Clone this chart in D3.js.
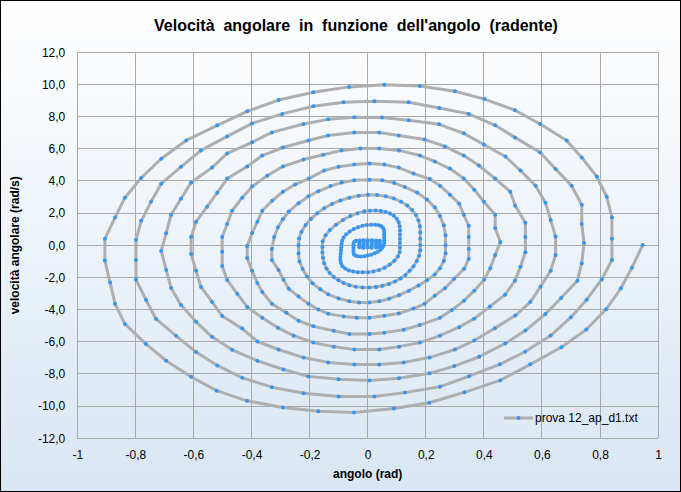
<!DOCTYPE html>
<html><head><meta charset="utf-8">
<script src="https://cdn.jsdelivr.net/npm/d3@7"></script>
<style>
html,body{margin:0;padding:0;background:#fff;}
svg{display:block;font-family:"Liberation Sans",Arial,sans-serif;}
</style></head>
<body><svg id="c" width="681" height="492"></svg>
<script>
// ---- data: angle (rad), angular velocity (rad/s), one array per half-oscillation
const semi01=[[0.947,0.02],[0.910,-1.39],[0.872,-2.67],[0.821,-3.98],[0.753,-5.24],[0.667,-6.34],[0.560,-7.40],[0.456,-8.40],[0.333,-9.14],[0.212,-9.79],[0.090,-10.15],[-0.047,-10.39],[-0.170,-10.32],[-0.292,-10.08],[-0.416,-9.67],[-0.520,-9.04],[-0.608,-8.18],[-0.694,-7.18],[-0.764,-6.13],[-0.836,-4.89],[-0.870,-3.64],[-0.887,-2.32],[-0.905,-0.95]];
const semi02=[[-0.905,0.40],[-0.870,1.73],[-0.836,2.96],[-0.780,4.19],[-0.711,5.38],[-0.625,6.52],[-0.518,7.46],[-0.415,8.33],[-0.307,9.03],[-0.187,9.52],[-0.064,9.85],[0.057,9.98],[0.179,9.90],[0.300,9.58],[0.402,9.09],[0.507,8.40],[0.594,7.54],[0.685,6.52],[0.737,5.46],[0.789,4.27],[0.823,3.02],[0.841,1.73],[0.841,0.40]];
const semi03=[[0.841,-0.91],[0.806,-2.12],[0.754,-3.38],[0.700,-4.47],[0.630,-5.61],[0.542,-6.62],[0.455,-7.40],[0.349,-8.14],[0.249,-8.79],[0.128,-9.16],[0.023,-9.40],[-0.100,-9.40],[-0.221,-9.20],[-0.330,-8.82],[-0.432,-8.24],[-0.518,-7.47],[-0.591,-6.63],[-0.660,-5.63],[-0.729,-4.58],[-0.763,-3.40],[-0.798,-2.13],[-0.798,-0.91]];
const semi04=[[-0.798,0.33],[-0.780,1.52],[-0.746,2.71],[-0.711,3.83],[-0.643,4.88],[-0.574,5.90],[-0.484,6.77],[-0.398,7.58],[-0.294,8.17],[-0.187,8.65],[-0.083,8.90],[0.023,8.96],[0.141,8.90],[0.246,8.54],[0.348,8.17],[0.439,7.46],[0.507,6.71],[0.594,5.77],[0.647,4.75],[0.702,3.71],[0.737,2.52],[0.737,1.33],[0.745,0.15]];
const semi05=[[0.737,-1.11],[0.722,-2.21],[0.666,-3.28],[0.612,-4.27],[0.543,-5.30],[0.474,-6.10],[0.384,-6.93],[0.298,-7.51],[0.213,-7.96],[0.108,-8.27],[0.006,-8.40],[-0.100,-8.33],[-0.204,-8.15],[-0.290,-7.72],[-0.380,-7.18],[-0.467,-6.50],[-0.536,-5.69],[-0.591,-4.76],[-0.643,-3.71],[-0.677,-2.65],[-0.694,-1.53],[-0.711,-0.35]];
const semi06=[[-0.694,0.75],[-0.677,1.90],[-0.643,2.90],[-0.608,3.90],[-0.536,4.83],[-0.484,5.71],[-0.398,6.40],[-0.330,7.02],[-0.221,7.54],[-0.136,7.83],[-0.046,7.96],[0.049,7.94],[0.141,7.77],[0.246,7.52],[0.331,6.96],[0.400,6.27],[0.474,5.52],[0.526,4.65],[0.578,3.71],[0.612,2.65],[0.630,1.58],[0.647,0.54]];
const semi07=[[0.647,-0.60],[0.630,-1.59],[0.595,-2.58],[0.560,-3.53],[0.508,-4.37],[0.438,-5.15],[0.367,-5.92],[0.300,-6.48],[0.213,-6.98],[0.124,-7.28],[0.040,-7.41],[-0.046,-7.41],[-0.136,-7.28],[-0.221,-6.98],[-0.307,-6.48],[-0.380,-5.98],[-0.432,-5.18],[-0.501,-4.39],[-0.536,-3.52],[-0.574,-2.59],[-0.591,-1.59],[-0.608,-0.54]];
const semi08=[[-0.608,0.52],[-0.591,1.46],[-0.553,2.40],[-0.518,3.27],[-0.484,4.15],[-0.415,4.90],[-0.363,5.58],[-0.292,6.08],[-0.204,6.52],[-0.136,6.83],[-0.046,7.02],[0.040,7.02],[0.107,6.83],[0.196,6.58],[0.266,6.15],[0.331,5.58],[0.383,4.96],[0.439,4.15],[0.491,3.33],[0.508,2.46],[0.543,1.40],[0.543,0.52]];
const semi09=[[0.543,-0.43],[0.526,-1.34],[0.507,-2.21],[0.473,-3.07],[0.421,-3.81],[0.367,-4.56],[0.315,-5.09],[0.249,-5.62],[0.180,-6.05],[0.108,-6.30],[0.040,-6.48],[-0.046,-6.48],[-0.117,-6.30],[-0.187,-6.05],[-0.255,-5.62],[-0.309,-5.13],[-0.363,-4.51],[-0.415,-3.83],[-0.449,-3.02],[-0.484,-2.15],[-0.501,-1.28],[-0.501,-0.40]];
const semi10=[[-0.501,0.52],[-0.484,1.33],[-0.467,2.15],[-0.432,2.96],[-0.398,3.65],[-0.346,4.33],[-0.292,4.90],[-0.221,5.33],[-0.153,5.63],[-0.090,5.90],[-0.025,6.02],[0.040,6.02],[0.108,5.90],[0.180,5.58],[0.231,5.21],[0.283,4.77],[0.331,4.15],[0.367,3.46],[0.400,2.71],[0.439,1.90],[0.439,1.08],[0.457,0.21]];
const semi11=[[0.439,-0.60],[0.422,-1.42],[0.401,-2.14],[0.367,-2.82],[0.332,-3.44],[0.290,-4.02],[0.249,-4.51],[0.179,-4.96],[0.124,-5.25],[0.057,-5.43],[0.006,-5.51],[-0.063,-5.51],[-0.117,-5.31],[-0.187,-5.04],[-0.238,-4.69],[-0.280,-4.20],[-0.330,-3.64],[-0.363,-2.90],[-0.380,-2.34],[-0.398,-1.59],[-0.415,-0.79]];
const semi12=[[-0.415,-0.04],[-0.398,0.77],[-0.380,1.46],[-0.363,2.15],[-0.329,2.77],[-0.292,3.33],[-0.250,3.78],[-0.203,4.15],[-0.150,4.65],[-0.100,4.88],[-0.046,5.02],[0.006,5.08],[0.057,5.02],[0.107,4.83],[0.158,4.46],[0.214,4.13],[0.249,3.71],[0.283,3.15],[0.315,2.58],[0.331,1.90],[0.348,1.21],[0.348,0.52]];
const semi13=[[0.348,-0.23],[0.348,-0.85],[0.332,-1.46],[0.298,-2.08],[0.266,-2.67],[0.231,-3.13],[0.196,-3.64],[0.158,-3.93],[0.107,-4.24],[0.057,-4.38],[0.006,-4.50],[-0.038,-4.50],[-0.083,-4.42],[-0.136,-4.26],[-0.170,-3.99],[-0.204,-3.64],[-0.238,-3.19],[-0.272,-2.70],[-0.290,-2.14],[-0.307,-1.54],[-0.330,-0.91]];
const semi14=[[-0.330,-0.23],[-0.322,0.52],[-0.309,1.12],[-0.292,1.62],[-0.272,2.10],[-0.238,2.62],[-0.204,3.05],[-0.170,3.36],[-0.128,3.68],[-0.090,3.90],[-0.046,4.04],[0.006,4.08],[0.050,4.04],[0.091,3.88],[0.128,3.62],[0.170,3.28],[0.204,2.85],[0.231,2.36],[0.249,1.82],[0.262,1.24],[0.268,0.62],[0.268,0.00]];
const semi15=[[0.268,-0.50],[0.262,-0.98],[0.249,-1.42],[0.231,-1.82],[0.204,-2.18],[0.175,-2.50],[0.142,-2.82],[0.108,-3.10],[0.074,-3.32],[0.040,-3.48],[0.006,-3.56],[-0.030,-3.56],[-0.063,-3.48],[-0.100,-3.30],[-0.136,-3.05],[-0.163,-2.74],[-0.190,-2.36],[-0.209,-1.94],[-0.224,-1.48],[-0.235,-1.00],[-0.238,-0.50],[-0.238,0.00]];
const semi16=[[-0.236,0.42],[-0.228,0.85],[-0.214,1.26],[-0.196,1.64],[-0.174,1.99],[-0.150,2.30],[-0.123,2.57],[-0.094,2.79],[-0.063,2.96],[-0.031,3.08],[0.001,3.14],[0.032,3.13],[0.062,3.05],[0.090,2.91],[0.115,2.71],[0.136,2.47],[0.153,2.19],[0.166,1.88],[0.175,1.54],[0.180,1.18],[0.181,0.80],[0.181,0.40],[0.181,0.00]];
const semi17=[[0.181,-0.30],[0.177,-0.65],[0.169,-0.98],[0.158,-1.30],[0.145,-1.58],[0.130,-1.84],[0.113,-2.06],[0.094,-2.25],[0.073,-2.40],[0.051,-2.52],[0.028,-2.59],[0.005,-2.63],[-0.018,-2.62],[-0.041,-2.57],[-0.063,-2.48],[-0.083,-2.34],[-0.101,-2.17],[-0.117,-1.97],[-0.131,-1.72],[-0.142,-1.44],[-0.150,-1.12],[-0.154,-0.78],[-0.156,-0.44],[-0.156,-0.10]];
const semi18=[[-0.155,0.25],[-0.145,0.62],[-0.130,0.95],[-0.109,1.28],[-0.085,1.58],[-0.060,1.82],[-0.035,2.00],[-0.012,2.11],[0.008,2.15],[0.027,2.16],[0.045,2.13],[0.062,2.07],[0.077,1.97],[0.090,1.83],[0.100,1.65],[0.107,1.43],[0.110,1.18],[0.111,0.92],[0.111,0.66],[0.111,0.40],[0.111,0.14]];
const semi19=[[0.111,-0.14],[0.110,-0.42],[0.104,-0.70],[0.092,-0.96],[0.076,-1.20],[0.058,-1.40],[0.039,-1.54],[0.020,-1.63],[0.001,-1.67],[-0.017,-1.68],[-0.034,-1.67],[-0.050,-1.63],[-0.065,-1.56],[-0.078,-1.45],[-0.087,-1.30],[-0.092,-1.12],[-0.094,-0.92],[-0.094,-0.72],[-0.093,-0.52],[-0.092,-0.32],[-0.091,-0.12],[-0.090,0.08]];
const semi20=[[-0.088,0.28],[-0.083,0.48],[-0.074,0.68],[-0.062,0.86],[-0.048,1.01],[-0.033,1.13],[-0.018,1.21],[-0.003,1.26],[0.012,1.28],[0.026,1.28],[0.038,1.25],[0.047,1.19],[0.053,1.08],[0.056,0.95],[0.057,0.80],[0.057,0.64],[0.057,0.48],[0.057,0.32],[0.057,0.16],[0.055,0.00]];
const semi21=[[0.051,-0.14],[0.044,-0.28],[0.035,-0.40],[0.024,-0.50],[0.012,-0.58],[0.000,-0.64],[-0.012,-0.68],[-0.024,-0.69],[-0.035,-0.68],[-0.043,-0.63],[-0.048,-0.54],[-0.049,-0.42],[-0.049,-0.29],[-0.049,-0.16],[-0.049,-0.03],[-0.049,0.10]];
const semi22=[[-0.046,0.22],[-0.040,0.28],[-0.029,0.30],[-0.015,0.31],[-0.001,0.31],[0.014,0.31],[0.029,0.30],[0.042,0.28]];
const finale=[[0.042,0.12],[0.042,-0.03],[0.042,-0.16],[0.029,-0.14],[0.029,0.00],[0.029,0.14],[0.029,0.27],[0.014,0.27],[0.014,0.13],[0.014,-0.01],[0.014,-0.15],[-0.001,-0.14],[-0.001,0.00],[-0.001,0.14],[-0.001,0.27],[-0.015,0.26],[-0.015,0.12],[-0.015,-0.02],[-0.015,-0.15],[-0.029,-0.12],[-0.029,0.02],[-0.029,0.16]];

const xTicks=[-1,-0.8,-0.6,-0.4,-0.2,0,0.2,0.4,0.6,0.8,1];
const xTickLabels=["-1","-0,8","-0,6","-0,4","-0,2","0","0,2","0,4","0,6","0,8","1"];
const yTicks=[-12,-10,-8,-6,-4,-2,0,2,4,6,8,10,12];
const yTickLabels=["-12,0","-10,0","-8,0","-6,0","-4,0","-2,0","0,0","2,0","4,0","6,0","8,0","10,0","12,0"];
const titleText="Velocità  angolare  in  funzione  dell'angolo  (radente)";
const xTitle="angolo (rad)";
const yTitle="velocità angolare (rad/s)";
const seriesName="prova 12_ap_d1.txt";

const series=[].concat(semi01,semi02,semi03,semi04,semi05,semi06,semi07,semi08,semi09,semi10,semi11,semi12,semi13,semi14,semi15,semi16,semi17,semi18,semi19,semi20,semi21,semi22,finale);

// ---- drawing
const W=681,H=492;
const L=77.3,R=658.1,T=52.3,B=438.3;
const svg=d3.select("#c");
const defs=svg.append("defs");
const g=defs.append("linearGradient").attr("id","bg").attr("x1",0).attr("y1",0).attr("x2",0).attr("y2",1);
g.append("stop").attr("offset","0%").attr("stop-color","#ffffff");
g.append("stop").attr("offset","100%").attr("stop-color","#d9e6f3");
svg.append("rect").attr("x",0.5).attr("y",0.5).attr("width",W-1).attr("height",H-1)
  .attr("fill","url(#bg)").attr("stroke","#000").attr("stroke-width",1);

const x=d3.scaleLinear().domain([-1,1]).range([L,R]);
const y=d3.scaleLinear().domain([-12,12]).range([B,T]);

// gridlines
const grid=svg.append("g").attr("shape-rendering","crispEdges");
grid.selectAll("line.v").data(xTicks).join("line").attr("class","v")
  .attr("x1",d=>x(d)).attr("x2",d=>x(d)).attr("y1",T).attr("y2",B)
  .attr("stroke","#a9a9a9").attr("stroke-width",1);
grid.selectAll("line.h").data(yTicks).join("line").attr("class","h")
  .attr("x1",L).attr("x2",R).attr("y1",d=>y(d)).attr("y2",d=>y(d))
  .attr("stroke","#a9a9a9").attr("stroke-width",1);

// axes (labels only)
const xAxis=d3.axisBottom(x).tickValues(xTicks).tickSize(0).tickPadding(12)
  .tickFormat((d,i)=>xTickLabels[i]);
const ax=svg.append("g").attr("transform",`translate(0,${B})`).call(xAxis);
ax.select(".domain").remove();
ax.selectAll("text").attr("font-size",12).attr("fill","#000").attr("font-family","'Liberation Sans',Arial,sans-serif");
const yAxis=d3.axisLeft(y).tickValues(yTicks).tickSize(0).tickPadding(12)
  .tickFormat((d,i)=>yTickLabels[i]);
const ay=svg.append("g").attr("transform",`translate(${L},0)`).call(yAxis);
ay.select(".domain").remove();
ay.selectAll("text").attr("font-size",12).attr("fill","#000").attr("font-family","'Liberation Sans',Arial,sans-serif");

// series
const line=d3.line().x(d=>x(d[0])).y(d=>y(d[1]));
svg.append("path").datum(series).attr("d",line).attr("fill","none")
  .attr("stroke","#aeaeae").attr("stroke-width",3).attr("stroke-linejoin","round").attr("stroke-linecap","round");
svg.append("g").selectAll("circle").data(series).join("circle")
  .attr("cx",d=>x(d[0])).attr("cy",d=>y(d[1])).attr("r",2).attr("fill","#3796f4");

// titles
svg.append("text").attr("x",356).attr("y",31).attr("text-anchor","middle")
  .attr("font-size",16).attr("font-weight","bold").attr("xml:space","preserve")
  .style("white-space","pre").text(titleText);
svg.append("text").attr("x",x(0)).attr("y",478).attr("text-anchor","middle")
  .attr("font-size",12).attr("font-weight","bold").text(xTitle);
svg.append("text").attr("transform",`translate(19,${y(0)}) rotate(-90)`).attr("text-anchor","middle")
  .attr("font-size",12).attr("font-weight","bold").text(yTitle);

// legend
const lg=svg.append("g").attr("transform","translate(504,418)");
lg.append("line").attr("x1",0).attr("x2",29).attr("y1",0).attr("y2",0)
  .attr("stroke","#aeaeae").attr("stroke-width",3);
lg.append("circle").attr("cx",14.5).attr("cy",0).attr("r",2).attr("fill","#3796f4");
lg.append("text").attr("x",31).attr("y",4.3).attr("font-size",12).text(seriesName);
</script>
</body></html>
